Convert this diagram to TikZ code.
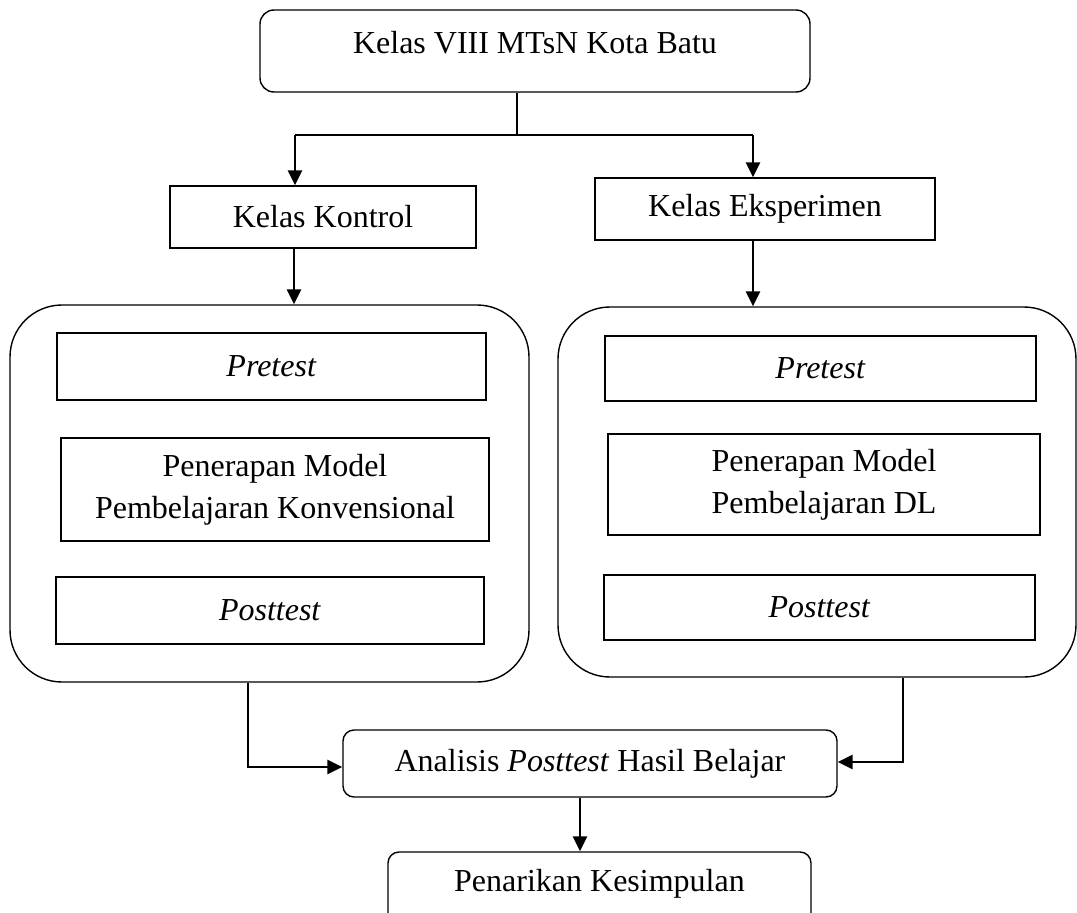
\documentclass[tikz,border=0pt]{standalone}
\usepackage{fontspec}
\setmainfont{Liberation Serif}
\usetikzlibrary{arrows.meta}
\begin{document}
\begin{tikzpicture}[x=1pt,y=-1pt,
  every node/.style={font=\fontsize{32}{42}\selectfont, inner sep=0pt, align=center},
  sbox/.style={draw, line width=1.4pt},
  rbox/.style={draw, line width=1.4pt, rounded corners=14pt},
  cont/.style={draw, line width=1.4pt, rounded corners=52pt},
  wire/.style={line width=2.8pt},
  arr/.style={line width=2.8pt, -{Triangle[length=15pt,width=14pt]}}]
\useasboundingbox (0,0) rectangle (1077,913);
\clip (0,0) rectangle (1077,913);
% top
\node[rbox, minimum width=550pt, minimum height=82pt] (top) at (535,51) {};
\node (toptxt) at (535,43) {Kelas VIII MTsN Kota Batu};
% classes
\node[sbox, minimum width=306pt, minimum height=62pt] (kk) at (323,217) {Kelas Kontrol};
\node[sbox, minimum width=340pt, minimum height=62pt] (ke) at (765,209) {Kelas Eksperimen};
% containers
\node[cont, minimum width=519pt, minimum height=377pt] (cl) at (269.5,493.5) {};
\node[cont, minimum width=518pt, minimum height=370pt] (cr) at (817,492) {};
% left inner
\node[sbox, minimum width=429pt, minimum height=67pt] (lp) at (271.5,366.5) {\textit{Pretest}};
\node[sbox, minimum width=428pt, minimum height=103pt] (lm) at (275,489.5) {Penerapan Model\\Pembelajaran Konvensional};
\node[sbox, minimum width=428pt, minimum height=67pt] (lq) at (270,610.5) {\textit{Posttest}};
% right inner
\node[sbox, minimum width=431pt, minimum height=65pt] (rp) at (820.5,368.5) {\textit{Pretest}};
\node[sbox, minimum width=432pt, minimum height=101pt] (rm) at (824,484.5) {Penerapan Model\\Pembelajaran DL};
\node[sbox, minimum width=431pt, minimum height=65pt] (rq) at (819.5,607.5) {\textit{Posttest}};
% bottom
\node[rbox, rounded corners=11pt, minimum width=494pt, minimum height=67pt] (an) at (590,763.5) {Analisis \textit{Posttest} Hasil Belajar};
\node[rbox, rounded corners=11pt, minimum width=423pt, minimum height=78pt] (pk) at (599.5,891) {};
\node (pktxt) at (599.5,884) {Penarikan Kesimpulan};
% connectors
\coordinate (j) at (517,135);
\coordinate (jl) at (295,135);
\coordinate (jr) at (753,135);
\draw[wire] (top.south -| j) -- (j);
\draw[wire] (jl) -- (jr);
\draw[arr] (jl) -- (kk.north -| jl);
\draw[arr] (jr) -- (ke.north -| jr);
\coordinate (kl) at (294,0);
\draw[arr] (kk.south -| kl) -- (cl.north -| kl);
\draw[arr] (ke.south -| jr) -- (cr.north -| jr);
\coordinate (bl) at (248,0);
\coordinate (br) at (903,0);
\draw[arr] (cl.south -| bl) |- ([yshift=-3.5pt]an.west);
\draw[arr] (cr.south -| br) |- ([yshift=1.5pt]an.east);
\coordinate (bm) at (580,0);
\draw[arr] (an.south -| bm) -- (pk.north -| bm);
\end{tikzpicture}
\end{document}
